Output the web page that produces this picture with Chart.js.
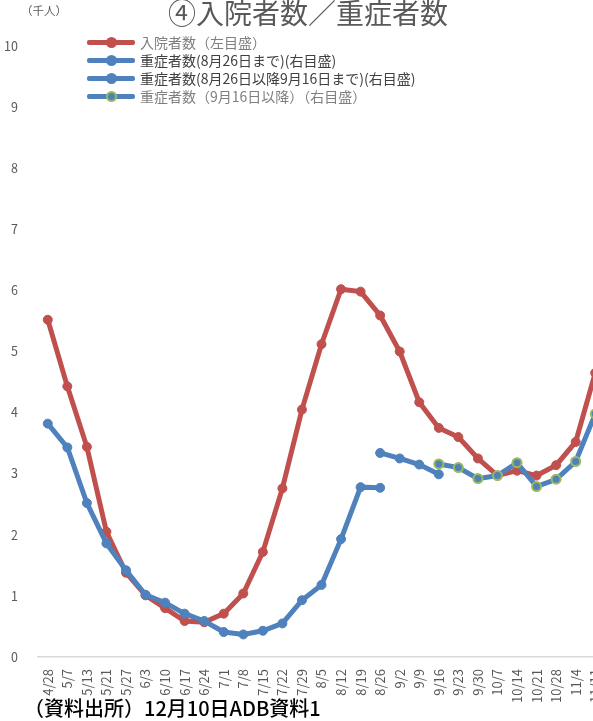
<!DOCTYPE html>
<html lang="ja">
<head>
<meta charset="UTF-8">
<title>入院者数／重症者数</title>
<script src="https://cdn.jsdelivr.net/npm/chart.js@4.4.0/dist/chart.umd.min.js"></script>
<style>
    html, body { margin: 0; padding: 0; background: #fff; overflow: hidden; }
    body { width: 593px; height: 721px; position: relative; font-family: "Noto Sans CJK JP", sans-serif; }
    #chart { position: absolute; left: 0; top: 0; }
    #title { position: absolute; left: 168px; top: -2px; font-size: 28px; line-height: 28px; color: #595959; white-space: nowrap; }
    #unit { position: absolute; left: 21px; top: 4px; font-size: 11.5px; line-height: 12px; color: #595959; white-space: nowrap; }
    #legend { position: absolute; left: 87px; top: 33px; }
    #legend .row { height: 18px; display: flex; align-items: center; white-space: nowrap; }
    #legend .sample { position: relative; width: 48px; height: 5px; border-radius: 2px; margin-right: 5px; }
    #legend .sample i { position: absolute; left: 19px; top: -3px; width: 7px; height: 7px; border-radius: 50%; border: 2px solid; box-sizing: content-box; }
    #legend .txt { font-size: 14px; line-height: 18px; }
    #source { position: absolute; left: 24px; top: 697px; font-size: 20px; line-height: 22px; font-weight: 500; color: #000; white-space: nowrap; }
</style>
</head>
<body>
<canvas id="chart" width="612" height="721"></canvas>
<div id="title">④入院者数／重症者数</div>
<div id="unit">（千人）</div>
<div id="legend"></div>
<div id="source">（資料出所）12月10日ADB資料1</div>

<script>
//weekly dates on the x axis
const dates = ['4/28', '5/7', '5/13', '5/21', '5/27', '6/3', '6/10', '6/17', '6/24', '7/1',
    '7/8', '7/15', '7/22', '7/29', '8/5', '8/12', '8/19', '8/26', '9/2', '9/9',
    '9/16', '9/23', '9/30', '10/7', '10/14', '10/21', '10/28', '11/4', '11/11'];

//hospitalized (thousand persons)
const hospitalized = [5.52, 4.43, 3.44, 2.05, 1.38, 1.01, 0.80, 0.59, 0.57, 0.71,
    1.04, 1.72, 2.76, 4.05, 5.12, 6.02, 5.98, 5.59, 5.00, 4.17,
    3.75, 3.60, 3.25, 2.97, 3.05, 2.97, 3.14, 3.52, 4.65];

//severe cases, three separately counted periods
const severeToAug26 = [3.82, 3.43, 2.52, 1.86, 1.42, 1.02, 0.89, 0.71, 0.59, 0.41,
    0.37, 0.43, 0.55, 0.93, 1.18, 1.93, 2.78, 2.77, null, null,
    null, null, null, null, null, null, null, null, null];
const severeAug26ToSep16 = [null, null, null, null, null, null, null, null, null, null,
    null, null, null, null, null, null, null, 3.34, 3.25, 3.15,
    2.99, null, null, null, null, null, null, null, null];
const severeFromSep16 = [null, null, null, null, null, null, null, null, null, null,
    null, null, null, null, null, null, null, null, null, null,
    3.16, 3.10, 2.92, 2.97, 3.18, 2.79, 2.91, 3.20, 3.98];

const yTicks = [0, 1, 2, 3, 4, 5, 6, 7, 8, 9, 10];

const RED = '#c0504d';
const BLUE = '#4f81bd';
const GREEN = '#9bbb59';
const legendTextColors = ['#7f7f7f', '#404040', '#404040', '#7f7f7f'];

Chart.defaults.font.family = '"Noto Sans CJK JP", sans-serif';

//helper to build one line dataset
function lineSet(label, data, color, pointFill, pointBorder, order) {
    return {
        label: label,
        data: data,
        borderColor: color,
        backgroundColor: color,
        borderWidth: 5,
        pointRadius: 4.5,
        pointBorderWidth: pointBorder === pointFill ? 1 : 2,
        pointBackgroundColor: pointFill,
        pointBorderColor: pointBorder,
        pointHoverRadius: 5,
        tension: 0,
        spanGaps: false,
        order: order
    };
}

//html legend drawn over the plot area like the original
function buildLegend(chart) {
    const box = document.getElementById('legend');
    chart.data.datasets.forEach((ds, i) => {
        const row = document.createElement('div');
        row.className = 'row';
        row.innerHTML = `<span class="sample" style="background:${ds.borderColor}">` +
            `<i style="background:${ds.pointBackgroundColor};border-color:${ds.pointBorderColor}"></i></span>` +
            `<span class="txt" style="color:${legendTextColors[i]}">${ds.label}</span>`;
        box.appendChild(row);
    });
}

function renderChart() {
    const ctx = document.getElementById('chart').getContext('2d');

    const chart = new Chart(ctx, {
        type: 'line',
        data: {
            labels: dates,
            datasets: [
                lineSet('入院者数（左目盛）', hospitalized, RED, RED, RED, 1),
                lineSet('重症者数(8月26日まで)(右目盛)', severeToAug26, BLUE, BLUE, BLUE, 0),
                lineSet('重症者数(8月26日以降9月16日まで)(右目盛)', severeAug26ToSep16, BLUE, BLUE, BLUE, 0),
                lineSet('重症者数（9月16日以降）（右目盛）', severeFromSep16, BLUE, BLUE, GREEN, 0)
            ]
        },
        options: {
            responsive: false,
            animation: false,
            layout: {
                padding: { left: 4, right: 6, top: 46, bottom: 6 }
            },
            plugins: {
                legend: { display: false },
                tooltip: { enabled: true }
            },
            scales: {
                x: {
                    offset: true,
                    afterFit: scale => { scale.paddingLeft = 0; scale.paddingRight = 0; },
                    grid: { display: false, drawTicks: false },
                    border: { display: true, color: '#d9d9d9', width: 1.5 },
                    ticks: {
                        autoSkip: false,
                        maxRotation: 90,
                        minRotation: 90,
                        padding: 12,
                        color: '#595959',
                        font: { size: 13 }
                    }
                },
                y: {
                    min: yTicks[0],
                    max: yTicks[yTicks.length - 1],
                    afterBuildTicks: scale => { scale.ticks = yTicks.map(v => ({ value: v })); },
                    afterFit: scale => { scale.width = 34; },
                    grid: { display: false, drawTicks: false },
                    border: { display: false },
                    ticks: {
                        padding: 20,
                        color: '#595959',
                        font: { size: 12.5 }
                    }
                }
            }
        }
    });

    buildLegend(chart);
}

document.addEventListener('DOMContentLoaded', renderChart);
</script>
</body>
</html>
